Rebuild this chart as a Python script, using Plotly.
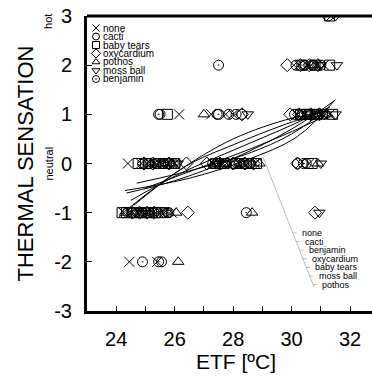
import plotly.graph_objects as go

# ---------------- data ----------------
groups = ["none", "cacti", "baby tears", "oxycardium", "pothos", "moss ball", "benjamin"]
symbols = ["x-thin-open", "circle-open", "square-open", "diamond-open",
           "triangle-up-open", "triangle-down-open", "circle-open-dot"]

none_etf = [24.4, 24.85, 25.05, 25.3, 25.5, 25.75, 26.0, 27.3, 27.6, 27.9, 28.2, 28.5, 28.75, 30.3, 30.6,
            24.25, 24.5, 24.75, 25.0, 25.25, 25.45, 25.65, 25.9,
            26.15, 27.25, 27.75, 28.0, 30.2, 30.45, 30.75, 31.05, 31.3,
            30.25, 30.55, 30.85, 31.1,
            24.45, 25.4, 31.35]
none_ts = [0] * 15 + [-1] * 8 + [1] * 9 + [2] * 4 + [-2, -2, 3]

cacti_etf = [24.9, 25.15, 25.35, 25.6, 25.85, 26.05, 27.45, 27.75, 28.05, 28.35, 28.6, 30.2, 30.5,
             25.5, 27.45, 27.85, 28.3, 30.1, 30.35, 30.6, 30.9, 31.15,
             24.4, 24.65, 24.9, 25.15, 25.4, 25.6, 25.8,
             30.15, 30.4, 30.7, 31.0,
             25.55, 31.25]
cacti_ts = [0] * 13 + [1] * 9 + [-1] * 7 + [2] * 4 + [-2, 3]

babytears_etf = [24.75, 25.0, 25.45, 25.7, 26.0, 27.4, 27.7, 28.1, 28.45, 28.8, 30.7,
                 25.75, 30.3, 30.55, 30.85, 31.4,
                 24.2, 24.35, 24.6, 24.85, 25.1, 25.35, 25.55,
                 30.35, 30.8, 31.3, 31.3]
babytears_ts = [0] * 11 + [1] * 5 + [-1] * 7 + [2, 2, 2, 3]

oxy_etf = [24.95, 25.25, 25.8, 26.4, 27.1, 27.55, 28.0, 28.4, 28.7, 30.2,
           29.95, 30.25, 30.65, 30.95, 28.3,
           24.55, 24.8, 25.05, 25.3, 26.45, 30.8,
           29.85, 30.3, 30.6, 30.9]
oxy_ts = [0] * 10 + [1] * 5 + [-1] * 6 + [2] * 4

pothos_etf = [25.2, 25.55, 25.9, 27.35, 27.65, 28.25, 28.9, 30.9,
              27.0, 30.3, 30.75, 31.2,
              24.3, 24.8, 25.2, 26.05, 28.65,
              26.12, 30.8]
pothos_ts = [0] * 8 + [1] * 4 + [-1] * 5 + [-2, 2]

moss_etf = [25.3, 25.65, 26.1, 27.5, 27.8, 28.2, 28.55, 31.0,
            28.5, 30.5, 31.0, 31.5,
            24.7, 25.0, 25.7, 30.95,
            31.0, 31.55, 31.5]
moss_ts = [0] * 8 + [1] * 4 + [-1] * 4 + [2, 2, 3]

benj_etf = [25.1, 25.4, 25.6, 25.95, 27.3, 27.65, 28.2, 28.55, 30.4,
            25.45, 27.5, 28.1, 30.55, 30.8, 31.05,
            24.55, 24.9, 25.3, 25.75, 28.45,
            27.5, 30.45, 30.75,
            24.9, 25.45]
benj_ts = [0] * 9 + [1] * 6 + [-1] * 5 + [2] * 3 + [-2, -2]

# fitted curves
fit_none_x = [24.35, 26.0, 28.0, 30.0, 31.45]
fit_none_y = [-0.6, -0.35, 0.1, 0.7, 1.27]
fit_cacti_x = [24.45, 26.0, 28.0, 30.0, 31.0]
fit_cacti_y = [-0.9, -0.2, 0.5, 0.92, 1.02]
fit_benj_x = [24.7, 26.5, 28.5, 30.0, 31.3]
fit_benj_y = [-0.4, -0.15, 0.2, 0.6, 1.15]
fit_oxy_x = [24.6, 26.4, 28.0, 29.8, 31.2]
fit_oxy_y = [-0.85, -0.05, 0.38, 0.8, 1.08]
fit_baby_x = [24.3, 26.5, 28.5, 30.2, 31.5]
fit_baby_y = [-0.55, -0.3, 0.08, 0.55, 1.3]
fit_moss_x = [24.5, 26.2, 28.2, 30.0, 31.3]
fit_moss_y = [-0.75, -0.2, 0.32, 0.78, 1.15]
fit_pothos_x = [25.0, 26.8, 28.6, 30.2, 31.1]
fit_pothos_y = [-0.5, -0.1, 0.3, 0.7, 0.95]

fit_label_order = ["none", "cacti", "benjamin", "oxycardium", "baby tears", "moss ball", "pothos"]

x_tickvals = [24, 25, 26, 27, 28, 29, 30, 31, 32]
x_ticktext = ["24", "", "26", "", "28", "", "30", "", "32"]
y_tickvals = [-3, -2, -1, 0, 1, 2, 3]
y_ticktext = ["-3", "-2", "-1", "0", "1", "2", "3"]
y_side_labels = ["hot", "neutral", "cold"]
y_side_pos = [2.88, 0, -3.05]

# ---------------- figure ----------------
FONT = "Liberation Sans, Arial, sans-serif"
W, H = 372, 376
ML, MR, MT, MB = 87, 0, 16, 65
PW, PH = W - ML - MR, H - MT - MB
XR = [23, 32.75]
YR = [-3, 3]

fig = go.Figure()

series = [
    (none_etf, none_ts), (cacti_etf, cacti_ts), (babytears_etf, babytears_ts),
    (oxy_etf, oxy_ts), (pothos_etf, pothos_ts), (moss_etf, moss_ts), (benj_etf, benj_ts),
]
for name, sym, (xs, ys) in zip(groups, symbols, series):
    fig.add_trace(go.Scatter(
        x=xs, y=ys, mode="markers", name=name, showlegend=False,
        marker=dict(symbol=sym, size=10, color="black", line=dict(color="black", width=1)),
    ))

fits = [(fit_none_x, fit_none_y), (fit_cacti_x, fit_cacti_y), (fit_benj_x, fit_benj_y),
        (fit_oxy_x, fit_oxy_y), (fit_baby_x, fit_baby_y), (fit_moss_x, fit_moss_y),
        (fit_pothos_x, fit_pothos_y)]
for fx, fy in fits:
    fig.add_trace(go.Scatter(x=fx, y=fy, mode="lines", showlegend=False,
                             line=dict(color="black", width=1, shape="spline"),
                             hoverinfo="skip"))

def px2x(px):
    return XR[0] + (px - ML) / PW * (XR[1] - XR[0])

def py2y(py):
    return YR[1] - (py - MT) / PH * (YR[1] - YR[0])

# leader line for fit labels
lx0, ly0 = px2x(263), py2y(157)
lx1, ly1 = px2x(314), py2y(287)
fig.add_trace(go.Scatter(x=[lx0, lx1], y=[ly0, ly1], mode="lines", showlegend=False,
                         line=dict(color="#aaaaaa", width=0.8), hoverinfo="skip"))

annotations = []
shapes = []
for i, lab in enumerate(fit_label_order):
    py = 233 + 8.6 * i
    lpx = 263 + (py - 157) * (314 - 263) / (287 - 157)
    shapes.append(dict(type="line", xref="x", yref="y",
                       x0=px2x(lpx), x1=px2x(lpx + 4), y0=py2y(py), y1=py2y(py),
                       line=dict(color="#aaaaaa", width=0.8)))
    annotations.append(dict(x=px2x(lpx + 7), y=py2y(py), xref="x", yref="y",
                            text=lab, showarrow=False, xanchor="left", yanchor="middle",
                            font=dict(family=FONT, size=9, color="black")))

# top frame line
shapes.append(dict(type="line", xref="paper", yref="paper", x0=0, x1=1, y0=1, y1=1,
                   line=dict(color="black", width=3)))

# legend (manual, compact)
leg_y_px = [28, 36.5, 45, 53.5, 62, 70.5, 79]
leg_x_px = 96
fig.add_trace(go.Scatter(
    x=[(leg_x_px - ML) / PW] * len(groups),
    y=[(MT + PH - p) / PH for p in leg_y_px],
    xaxis="x2", yaxis="y2", mode="markers", showlegend=False, hoverinfo="skip",
    marker=dict(symbol=symbols, size=7, color="black", line=dict(color="black", width=1)),
))
for name, p in zip(groups, leg_y_px):
    annotations.append(dict(x=(101 - ML) / PW, y=(MT + PH - p) / PH, xref="paper", yref="paper",
                            text=name, showarrow=False, xanchor="left", yanchor="middle",
                            font=dict(family=FONT, size=10, color="black")))

for t, yv in zip(y_side_labels, y_side_pos):
    annotations.append(dict(x=(48 - ML) / PW, y=yv, xref="paper", yref="y", text=t,
                            textangle=-90, showarrow=False, xanchor="center", yanchor="middle",
                            font=dict(family=FONT, size=11, color="black")))

annotations.append(dict(x=(25 - ML) / PW, y=0.5, xref="paper", yref="paper",
                        text="THERMAL SENSATION", textangle=-90, showarrow=False,
                        xanchor="center", yanchor="middle",
                        font=dict(family=FONT, size=22, color="black")))
annotations.append(dict(x=(236 - ML) / PW, y=(MT + PH - 361) / PH, xref="paper", yref="paper",
                        text="ETF [ºC]", showarrow=False, xanchor="center", yanchor="middle",
                        font=dict(family=FONT, size=21, color="black")))

fig.update_layout(
    width=W, height=H,
    margin=dict(l=ML, r=MR, t=MT, b=MB, pad=0),
    paper_bgcolor="white", plot_bgcolor="white",
    font=dict(family=FONT, color="black"),
    showlegend=False,
    xaxis=dict(range=XR, tickvals=x_tickvals, ticktext=x_ticktext, ticks="inside",
               ticklen=5, tickwidth=1, tickcolor="black", showline=True, linewidth=3,
               linecolor="black", showgrid=False, zeroline=False,
               tickfont=dict(family=FONT, size=20), ticklabelstandoff=8),
    yaxis=dict(range=YR, tickvals=y_tickvals, ticktext=y_ticktext, ticks="inside",
               ticklen=5, tickwidth=1, tickcolor="black", showline=True, linewidth=3,
               linecolor="black", showgrid=False, zeroline=False,
               tickfont=dict(family=FONT, size=20), ticklabelstandoff=8),
    xaxis2=dict(range=[0, 1], overlaying="x", visible=False),
    yaxis2=dict(range=[0, 1], overlaying="y", visible=False),
    annotations=annotations,
    shapes=shapes,
)

fig.write_html("out.html", config={"displayModeBar": False},
               post_script="document.body.style.margin='0';")
